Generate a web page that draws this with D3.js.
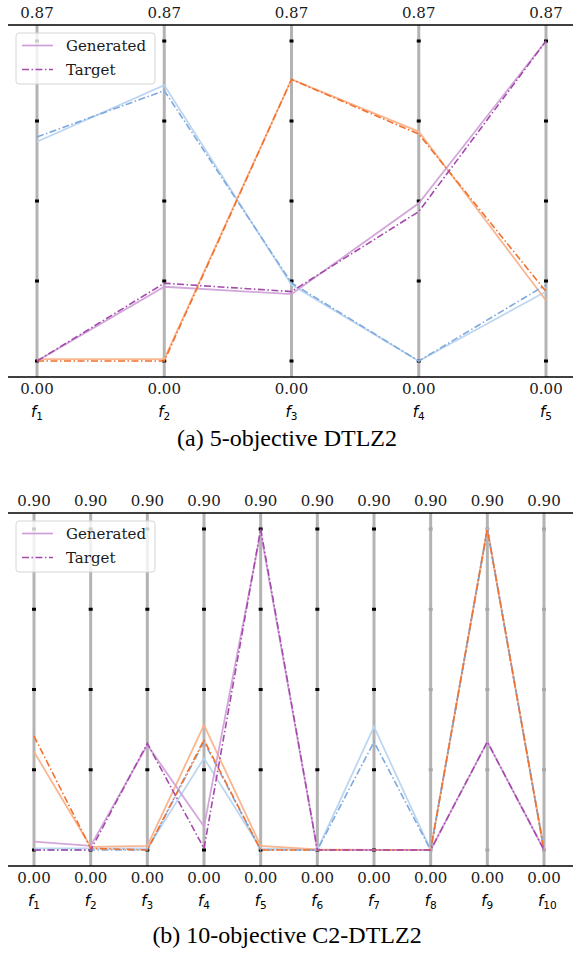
<!DOCTYPE html>
<html>
<head>
<meta charset="utf-8">
<script src="https://cdn.jsdelivr.net/npm/d3@7"></script>
<style>
    body { margin: 0; background: #fff; }
    svg { display: block; }
</style>
</head>
<body>
<svg id="chart"></svg>
<script>
'use strict';

// (a) 5-objective DTLZ2, values normalised to [0, 1]
const dtlzObjectives = ['1', '2', '3', '4', '5'];
const dtlzUpper = ['0.87', '0.87', '0.87', '0.87', '0.87'];
const dtlzLower = ['0.00', '0.00', '0.00', '0.00', '0.00'];
const dtlzBlueGen = [0.685, 0.862, 0.238, 0.0, 0.217];
const dtlzBlueTgt = [0.700, 0.845, 0.244, 0.0, 0.238];
const dtlzOrangeGen = [0.006, 0.006, 0.880, 0.717, 0.189];
const dtlzOrangeTgt = [0.0, 0.0, 0.880, 0.709, 0.217];
const dtlzPurpleGen = [0.0, 0.232, 0.209, 0.493, 1.0];
const dtlzPurpleTgt = [0.0, 0.243, 0.217, 0.467, 1.0];

// (b) 10-objective C2-DTLZ2
const c2Objectives = ['1', '2', '3', '4', '5', '6', '7', '8', '9', '10'];
const c2Upper = ['0.90', '0.90', '0.90', '0.90', '0.90', '0.90', '0.90', '0.90', '0.90', '0.90'];
const c2Lower = ['0.00', '0.00', '0.00', '0.00', '0.00', '0.00', '0.00', '0.00', '0.00', '0.00'];
const c2BlueGen = [0.005, 0.005, 0.005, 0.286, 0.005, 0.0, 0.384, 0.0, 1.0, 0.0];
const c2BlueTgt = [0.0, 0.0, 0.0, 0.337, 0.0, 0.0, 0.337, 0.0, 1.0, 0.0];
const c2OrangeGen = [0.306, 0.010, 0.013, 0.389, 0.013, 0.002, 0.0, 0.0, 1.0, 0.0];
const c2OrangeTgt = [0.355, 0.005, 0.0, 0.343, 0.0, 0.0, 0.0, 0.0, 1.0, 0.0];
const c2PurpleGen = [0.026, 0.013, 0.327, 0.073, 0.99, 0.0, 0.0, 0.0, 0.337, 0.0];
const c2PurpleTgt = [0.0, 0.0, 0.332, 0.005, 1.0, 0.0, 0.0, 0.0, 0.337, 0.0];

const tickLevels = [0, 0.25, 0.5, 0.75, 1];
const legendLabels = ['Generated', 'Target'];

const colors = {
    blue: {gen: '#b7d3f0', tgt: '#7ea9de'},
    orange: {gen: '#f8ae84', tgt: '#f2702c'},
    purple: {gen: '#cd9fd6', tgt: '#a54aac'}
};

const width = 574;
const height = 955;
const svg = d3.select('#chart')
    .attr('width', width)
    .attr('height', height);

drawPanel({
    top: 25, bottom: 377, x0: 37, x1: 546, y0: 361, y1: 41,
    objectives: dtlzObjectives, upper: dtlzUpper, lower: dtlzLower,
    series: [
        ['blue', dtlzBlueGen, dtlzBlueTgt],
        ['orange', dtlzOrangeGen, dtlzOrangeTgt],
        ['purple', dtlzPurpleGen, dtlzPurpleTgt]
    ],
    greyMarkersFrom: 99,
    legendTop: 33,
    caption: '(a) 5-objective DTLZ2', captionY: 446
});

drawPanel({
    top: 513, bottom: 866, x0: 34, x1: 544, y0: 850, y1: 529,
    objectives: c2Objectives, upper: c2Upper, lower: c2Lower,
    series: [
        ['blue', c2BlueGen, c2BlueTgt],
        ['orange', c2OrangeGen, c2OrangeTgt],
        ['purple', c2PurpleGen, c2PurpleTgt]
    ],
    greyMarkersFrom: 7,
    legendTop: 521,
    caption: '(b) 10-objective C2-DTLZ2', captionY: 943
});

function drawPanel(cfg) {
    const g = svg.append('g');

    const x = d3.scalePoint()
        .domain(cfg.objectives)
        .range([cfg.x0, cfg.x1]);
    const y = d3.scaleLinear()
        .domain([0, 1])
        .range([cfg.y0, cfg.y1]);

    // vertical axes
    g.append('g')
        .selectAll('line')
        .data(cfg.objectives)
        .join('line')
        .attr('x1', d => x(d))
        .attr('x2', d => x(d))
        .attr('y1', cfg.top)
        .attr('y2', cfg.bottom)
        .attr('stroke', '#b3b3b3')
        .attr('stroke-width', 3);

    // tick markers on each axis
    const marks = cfg.objectives.flatMap((o, i) => tickLevels.map(t => ({o, t, grey: i >= cfg.greyMarkersFrom})));
    g.append('g')
        .selectAll('rect')
        .data(marks)
        .join('rect')
        .attr('x', d => x(d.o) - 2)
        .attr('y', d => y(d.t) - 1.5)
        .attr('width', 4)
        .attr('height', 3)
        .attr('fill', d => d.grey ? '#a8a8a8' : '#000');

    // frame lines top and bottom
    g.append('g')
        .selectAll('line')
        .data([cfg.top, cfg.bottom])
        .join('line')
        .attr('x1', 8)
        .attr('x2', 573)
        .attr('y1', d => d)
        .attr('y2', d => d)
        .attr('stroke', '#000')
        .attr('stroke-width', 1.3);

    const line = d3.line()
        .x((d, i) => x(cfg.objectives[i]))
        .y(d => y(d));

    // generated first, target on top
    const lines = g.append('g').attr('fill', 'none');
    cfg.series.forEach(([c, gen]) => {
        lines.append('path')
            .attr('d', line(gen))
            .attr('stroke', colors[c].gen)
            .attr('stroke-width', 1.8)
            .attr('opacity', 0.9);
    });
    cfg.series.forEach(([c, , tgt]) => {
        lines.append('path')
            .attr('d', line(tgt))
            .attr('stroke', colors[c].tgt)
            .attr('stroke-width', 1.6)
            .attr('stroke-dasharray', '7,2.5,1.5,2.5');
    });

    // bound labels
    const labelFont = "'DejaVu Serif', serif";
    g.append('g')
        .selectAll('text')
        .data(cfg.objectives)
        .join('text')
        .attr('x', d => x(d))
        .attr('y', cfg.top - 7)
        .attr('text-anchor', 'middle')
        .attr('font-family', labelFont)
        .attr('font-size', 15)
        .attr('fill', '#1a1a1a')
        .text((d, i) => cfg.upper[i]);

    g.append('g')
        .selectAll('text')
        .data(cfg.objectives)
        .join('text')
        .attr('x', d => x(d))
        .attr('y', cfg.bottom + 17)
        .attr('text-anchor', 'middle')
        .attr('font-family', labelFont)
        .attr('font-size', 15)
        .attr('fill', '#1a1a1a')
        .text((d, i) => cfg.lower[i]);

    // f_i names
    const names = g.append('g')
        .selectAll('text')
        .data(cfg.objectives)
        .join('text')
        .attr('x', d => x(d) - 6)
        .attr('y', cfg.bottom + 40)
        .attr('font-family', "'DejaVu Sans', sans-serif")
        .attr('font-size', 15)
        .attr('fill', '#000');
    names.append('tspan')
        .attr('font-style', 'italic')
        .text('f');
    names.append('tspan')
        .attr('font-size', 10.5)
        .attr('dy', 3)
        .text(d => d);

    // legend
    const lg = g.append('g').attr('transform', `translate(16,${cfg.legendTop})`);
    lg.append('rect')
        .attr('width', 139)
        .attr('height', 51)
        .attr('rx', 3)
        .attr('fill', '#fff')
        .attr('fill-opacity', 0.8)
        .attr('stroke', '#d6d6d6');
    const item = lg.selectAll('g')
        .data(legendLabels)
        .join('g')
        .attr('transform', (d, i) => `translate(0,${12.5 + i * 24})`);
    item.append('line')
        .attr('x1', 6)
        .attr('x2', 37)
        .attr('stroke', (d, i) => i === 0 ? colors.purple.gen : colors.purple.tgt)
        .attr('stroke-width', 1.7)
        .attr('stroke-dasharray', (d, i) => i === 0 ? null : '7,2.5,1.5,2.5');
    item.append('text')
        .attr('x', 50)
        .attr('dy', '0.35em')
        .attr('font-family', labelFont)
        .attr('font-size', 15)
        .attr('fill', '#1a1a1a')
        .text(d => d);

    g.append('text')
        .attr('x', 287)
        .attr('y', cfg.captionY)
        .attr('text-anchor', 'middle')
        .attr('font-family', "'Liberation Serif', 'Times New Roman', serif")
        .attr('font-size', 24)
        .attr('fill', '#000')
        .text(cfg.caption);
}
</script>
</body>
</html>
